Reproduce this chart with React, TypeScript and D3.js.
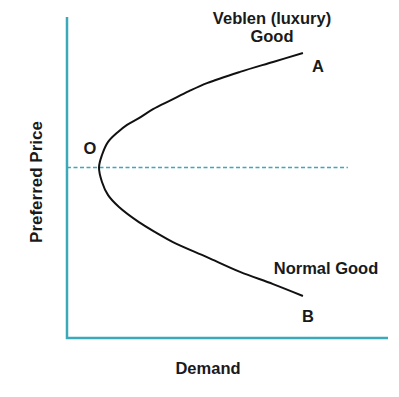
import React, { useEffect, useRef } from 'react'
import { select, scaleLinear, line, curveCatmullRom } from 'd3'

// curve points, demand / price (0-100 units), from A through O down to B
const demand = [73.5, 64.2, 53.9, 43.6, 38.0, 32.4, 26.8, 22.4, 18.7, 15.9, 12.8, 10.9, 9.97,
  10.9, 12.8, 16.2, 22.4, 28.0, 33.0, 43.6, 53.9, 64.2, 73.5]
const price = [88.8, 86.0, 82.9, 79.4, 76.9, 74.1, 71.3, 68.5, 66.4, 64.2, 61.1, 57.0, 53.1,
  48.6, 44.5, 40.8, 36.1, 32.7, 29.9, 25.2, 20.6, 16.8, 13.1]

const pricePointO = 53.1
const dashedEnd = 87.5

const W = 399, H = 397
const teal = '#3aa9b9'

function App() {
  const ref = useRef(null)

  useEffect(() => {
    const svg = select(ref.current)
    svg.selectAll('*').remove()

    const x = scaleLinear().domain([0, 100]).range([67, 388])
    const y = scaleLinear().domain([0, 100]).range([338, 17])

    const font = "'Liberation Sans', Arial, sans-serif"

    // dashed reference line at O
    svg.append('line')
      .attr('x1', x(0)).attr('x2', x(dashedEnd))
      .attr('y1', y(pricePointO)).attr('y2', y(pricePointO))
      .attr('stroke', teal)
      .attr('stroke-width', 1.6)
      .attr('stroke-dasharray', '4,2.5')

    // axes
    svg.append('path')
      .attr('d', `M${x(0)},${y(100)}V${y(0)}H${x(100)}`)
      .attr('fill', 'none')
      .attr('stroke', teal)
      .attr('stroke-width', 2.5)

    const pts = demand.map((d, i) => [d, price[i]])
    const curve = line()
      .x(d => x(d[0]))
      .y(d => y(d[1]))
      .curve(curveCatmullRom.alpha(0.5))

    svg.append('path')
      .attr('d', curve(pts))
      .attr('fill', 'none')
      .attr('stroke', '#111')
      .attr('stroke-width', 2)

    const labels = [
      { t: 'Veblen (luxury)', x: 272, y: 24 },
      { t: 'Good', x: 272, y: 42 },
      { t: 'A', x: 318, y: 72 },
      { t: 'O', x: 90, y: 154 },
      { t: 'Normal Good', x: 326, y: 274 },
      { t: 'B', x: 308, y: 322 },
      { t: 'Demand', x: 208, y: 374 },
    ]
    svg.selectAll('text.lbl')
      .data(labels)
      .enter()
      .append('text')
      .attr('class', 'lbl')
      .attr('x', d => d.x)
      .attr('y', d => d.y)
      .attr('text-anchor', 'middle')
      .style('font-family', font)
      .style('font-size', '16.5px')
      .style('font-weight', 'bold')
      .style('fill', '#1a1a1a')
      .text(d => d.t)

    svg.append('text')
      .attr('transform', 'translate(42,182) rotate(-90)')
      .attr('text-anchor', 'middle')
      .style('font-family', font)
      .style('font-size', '17px')
      .style('font-weight', 'bold')
      .style('fill', '#1a1a1a')
      .text('Preferred Price')
  }, [])

  return (
    <svg ref={ref} width={W} height={H}
      style={{ position: 'absolute', left: 0, top: 0, background: '#fff' }} />
  )
}

export default App
